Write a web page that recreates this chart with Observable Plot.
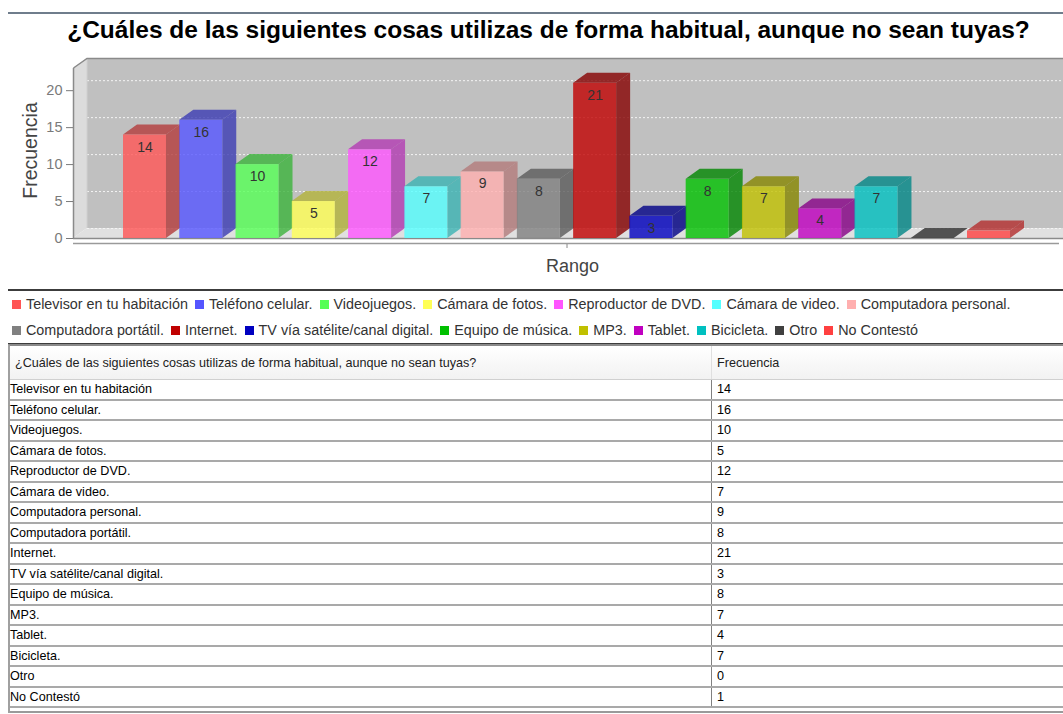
<!DOCTYPE html>
<html><head><meta charset="utf-8">
<script src="https://cdn.jsdelivr.net/npm/d3@7"></script>
<script src="https://cdn.jsdelivr.net/npm/@observablehq/plot@0.6"></script>
<style>
html,body{margin:0;padding:0;background:#fff;}
body{width:1063px;height:714px;overflow:hidden;position:relative;font-family:"Liberation Sans",Arial,sans-serif;}
#topline{position:absolute;left:8px;right:0;top:12px;border-top:2px solid #6f7d8c;}
#title{position:absolute;left:17px;width:1063px;top:16px;text-align:center;font-weight:bold;font-size:24.5px;line-height:28px;color:#000;white-space:nowrap;}
#chart{position:absolute;left:0;top:50px;}
#legend{position:absolute;left:8px;right:0;top:289px;height:52px;border-top:2px solid #3c3c3c;border-bottom:2px solid #3c3c3c;}
.lrow{position:absolute;left:4px;display:flex;align-items:center;font-size:14.35px;color:#333;white-space:nowrap;}
.litem{display:flex;align-items:center;margin-right:7px;}
.lsw{width:9px;height:9px;margin-right:5px;}
#table{position:absolute;left:8px;top:344px;width:1100px;border-top:2px solid #8a8a8a;border-left:2px solid #a0a0a0;font-size:12.6px;color:#000;}
.thead{height:34px;display:flex;align-items:stretch;background:linear-gradient(#ffffff,#f2f2f2);border-bottom:1px solid #d0d0d0;box-sizing:border-box;}
.thead .c1{padding-left:5px;color:#222;}
.thead .c2{border-left:1px solid #e0e0e0;color:#222;}
.row{height:20.5px;display:flex;align-items:stretch;border-bottom:2px solid #a9a9a9;box-sizing:border-box;}
.c1{width:701px;display:flex;align-items:center;padding-left:0;box-sizing:border-box;}
.c2{border-left:1px solid #808080;padding-left:5px;display:flex;align-items:center;flex:1;}
.tend{height:3px;border-bottom:2px solid #9a9a9a;}
</style>
</head><body>
<div id="topline"></div>
<div id="title"></div>
<div id="chart"></div>
<div id="legend"></div>
<div id="table"></div>
<script>
const titulo = "¿Cuáles de las siguientes cosas utilizas de forma habitual, aunque no sean tuyas?";
const categorias = ["Televisor en tu habitación","Teléfono celular.","Videojuegos.","Cámara de fotos.","Reproductor de DVD.","Cámara de video.","Computadora personal.","Computadora portátil.","Internet.","TV vía satélite/canal digital.","Equipo de música.","MP3.","Tablet.","Bicicleta.","Otro","No Contestó"];
const frecuencias = [14,16,10,5,12,7,9,8,21,3,8,7,4,7,0,1];
const colores = ["#FF5555","#5555FF","#55FF55","#FFFF55","#FF55FF","#55FFFF","#FFAFAF","#808080","#C00000","#0000C0","#00C000","#C0C000","#C000C0","#00C0C0","#404040","#FF4040"];
const yTicks = [0,5,10,15,20];
const yMax = 23;
const ejeY = "Frecuencia";
const ejeX = "Rango";
const legendRows = [7, 9];

const data = categorias.map((c,i)=>({categoria:c, frecuencia:frecuencias[i]}));
const DX = 14, DY = 10;

function walls(index, scales, values, dims) {
  const y = scales.y;
  const g = d3.create("svg:g");
  const left = dims.marginLeft, right = dims.width - dims.marginRight;
  const y0 = y(0), yT = y(yMax);
  g.append("rect").attr("x", left+DX).attr("y", yT-DY).attr("width", right-left-DX).attr("height", y0-yT).attr("fill","#c0c0c0");
  g.append("path").attr("d", `M${left},${yT}L${left+DX},${yT-DY}L${left+DX},${y0-DY}L${left},${y0}Z`).attr("fill","#dcdcdc");
  g.append("path").attr("d", `M${left},${y0}L${left+DX},${y0-DY}L${right},${y0-DY}L${right},${y0}Z`).attr("fill","#e0e0e0");
  for (const t of yTicks) {
    g.append("line").attr("x1", left+DX).attr("x2", right).attr("y1", y(t)-DY+0.5).attr("y2", y(t)-DY+0.5)
      .attr("stroke","#f4f4f4").attr("stroke-dasharray","2,2").attr("stroke-width",1);
  }
  g.append("line").attr("x1", left+DX).attr("x2", left+DX).attr("y1", yT-DY).attr("y2", y0-DY).attr("stroke","#d0d0d0");
  g.append("path").attr("d", `M${left+0.5},${yT}L${left+DX},${yT-DY+0.5}L${right},${yT-DY+0.5}`).attr("fill","none").attr("stroke","#8a8a8a").attr("stroke-width",1.5);
  g.append("line").attr("x1", left+0.5).attr("x2", left+0.5).attr("y1", yT).attr("y2", y0).attr("stroke","#8a8a8a").attr("stroke-width",1.5);
  g.append("line").attr("x1", left).attr("x2", right).attr("y1", y0+0.5).attr("y2", y0+0.5).attr("stroke","#8a8a8a").attr("stroke-width",1.5);
  g.append("line").attr("x1", left).attr("x2", right-4).attr("y1", y0+5.5).attr("y2", y0+5.5).attr("stroke","#9a9a9a").attr("stroke-width",1.5);
  const mid = (left+right)/2 - 1;
  g.append("line").attr("x1", mid).attr("x2", mid).attr("y1", y0+6).attr("y2", y0+10).attr("stroke","#888");
  return g.node();
}

function caras(index, scales, values, dims) {
  const {x, y, color} = scales;
  const bw = typeof x.bandwidth === "function" ? x.bandwidth() : x.bandwidth;
  const g = d3.create("svg:g");
  data.forEach(d => {
    const xl = x(d.categoria), xr = xl + bw, yt = y(d.frecuencia), yb = y(0);
    const c = d3.rgb(color(d.categoria)).darker(1).formatHex();
    g.append("path").attr("d", `M${xr},${yb}L${xr+DX},${yb-DY}L${xr+DX},${yt-DY}L${xr},${yt}Z`).attr("fill", c).attr("fill-opacity",0.8);
    g.append("path").attr("d", `M${xl},${yt}L${xl+DX},${yt-DY}L${xr+DX},${yt-DY}L${xr},${yt}Z`).attr("fill", c).attr("fill-opacity",0.8);
  });
  return g.node();
}

const chart = Plot.plot({
  width: 1063, height: 235,
  marginLeft: 73, marginRight: 0, marginTop: 18, marginBottom: 47,
  style: {fontFamily: "Liberation Sans, Arial, sans-serif", background: "transparent"},
  x: {type: "band", domain: categorias, range: [123, 1010], paddingInner: 0.236, paddingOuter: 0, align: 0.5, round: false, axis: null},
  y: {domain: [0, yMax], axis: null},
  color: {domain: categorias, range: colores},
  marks: [
    walls,
    Plot.axisY({ticks: yTicks, tickSize: 7, tickPadding: 4, fontSize: 14.5, color: "#7a7a7a", label: null}),
    caras,
    Plot.barY(data, {x: "categoria", y: "frecuencia", fill: "categoria", fillOpacity: 0.8}),
    Plot.text(data.filter(d => d.frecuencia >= 2), {x: "categoria", y: "frecuencia", text: d => String(d.frecuencia), dy: 12, fontSize: 14, fill: "#333"}),
    Plot.text([ejeY], {frameAnchor: "left", textAnchor: "middle", dx: -43, dy: -3, rotate: -90, fontSize: 19.5, fill: "#444"}),
    Plot.text([ejeX], {frameAnchor: "bottom", dy: 33, dx: 4, fontSize: 18, fill: "#444"})
  ]
});
document.getElementById("chart").appendChild(chart);
document.getElementById("title").textContent = titulo;

// legend
const legend = document.getElementById("legend");
let k = 0;
legendRows.forEach((n, r) => {
  const row = document.createElement("div");
  row.className = "lrow";
  row.style.top = (r === 0 ? 5 : 31) + "px";
  for (let j = 0; j < n; j++, k++) {
    const it = document.createElement("div"); it.className = "litem";
    const sw = document.createElement("div"); sw.className = "lsw"; sw.style.background = colores[k];
    const tx = document.createElement("span"); tx.textContent = categorias[k];
    it.appendChild(sw); it.appendChild(tx); row.appendChild(it);
  }
  legend.appendChild(row);
});

// table
const tbl = document.getElementById("table");
const head = document.createElement("div"); head.className = "thead";
head.innerHTML = `<div class="c1"></div><div class="c2">${ejeY}</div>`;
head.firstChild.textContent = titulo;
tbl.appendChild(head);
data.forEach(d => {
  const r = document.createElement("div"); r.className = "row";
  const a = document.createElement("div"); a.className = "c1"; a.textContent = d.categoria;
  const b = document.createElement("div"); b.className = "c2"; b.textContent = d.frecuencia;
  r.appendChild(a); r.appendChild(b); tbl.appendChild(r);
});
const end = document.createElement("div"); end.className = "tend"; tbl.appendChild(end);
</script>
</body></html>
